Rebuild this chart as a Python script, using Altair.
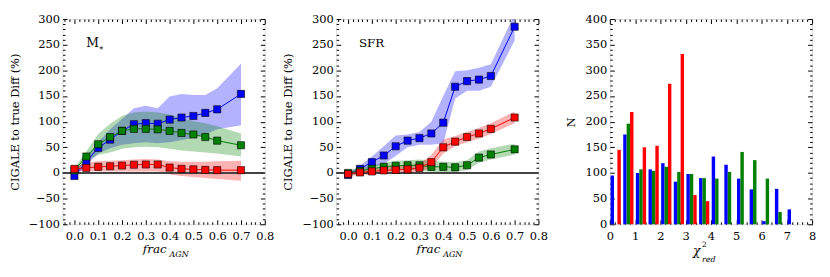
import altair as alt
import pandas as pd

FONT = "DejaVu Serif"
W, H = 204, 207

# ---------------- data ----------------
frac = [0.0, 0.05, 0.1, 0.15, 0.2, 0.25, 0.3, 0.35, 0.4, 0.45, 0.5, 0.55, 0.6, 0.7]

# M* panel
m_blue = [-6, 22, 49, 65, 82, 95, 97, 96, 104, 108, 111, 117, 124, 154]
m_blue_hi = [2, 28, 60, 85, 105, 126, 131, 126, 149, 154, 152, 152, 165, 213]
m_blue_lo = [-10, 15, 38, 48, 55, 58, 60, 58, 60, 64, 68, 75, 85, 93]
m_green = [5, 32, 56, 70, 82, 86, 86, 85, 82, 78, 75, 70, 63, 54]
m_green_hi = [10, 42, 76, 96, 111, 118, 120, 118, 114, 107, 101, 97, 91, 77]
m_green_lo = [0, 24, 35, 40, 47, 50, 51, 50, 47, 44, 42, 40, 38, 32]
m_red = [8, 10, 12, 13, 14.5, 16, 16.5, 16.5, 10.5, 8, 7, 6, 5.5, 5.5]
m_red_hi = [12, 20, 23, 24, 25, 26, 27, 26, 23, 22, 22, 22, 23, 24]
m_red_lo = [4, 4, 3, 3, 3, 3, 3, 3, -3, -6, -8, -10, -12, -15]

# SFR panel
s_blue = [-4, 8, 21, 34, 52, 63, 68, 77, 98, 168, 179, 182, 189, 285]
s_blue_hi = [0, 14, 32, 52, 73, 75, 80, 100, 150, 198, 200, 205, 212, 310]
s_blue_lo = [-6, 3, 10, 18, 33, 50, 55, 55, 58, 145, 160, 160, 168, 258]
s_green = [0, 4, 8, 12, 14, 15, 15, 12, 12, 11, 15, 30, 36, 46]
s_green_hi = [6, 10, 15, 20, 24, 25, 26, 24, 22, 21, 25, 42, 48, 57]
s_green_lo = [-6, -2, 0, 3, 5, 6, 5, 2, 2, 2, 6, 20, 26, 36]
s_red = [-2, 1, 3, 5, 6, 7, 10, 21, 50, 61, 70, 77, 86, 108]
s_red_hi = [2, 6, 8, 11, 12, 14, 18, 35, 65, 72, 80, 88, 97, 120]
s_red_lo = [-6, -4, -3, -1, 0, 1, 3, 10, 38, 52, 60, 67, 76, 97]

# histogram panel (bins of width 0.5)
bin_start = [0.0, 0.5, 1.0, 1.5, 2.0, 2.5, 3.0, 3.5, 4.0, 4.5, 5.0, 5.5, 6.0, 6.5, 7.0]
h_blue = [95, 175, 100, 107, 119, 83, 98, 90, 132, 116, 89, 68, 6, 69, 29]
h_green = [0, 196, 107, 104, 112, 102, 98, 90, 89, 102, 141, 125, 89, 24, 0]
h_red = [145, 219, 150, 153, 274, 332, 57, 45, 0, 0, 0, 0, 0, 0, 0]

SERIES = ["blue", "green", "red"]
COLORS = ["#0000ff", "#008000", "#ff0000"]
color_scale = alt.Scale(domain=SERIES, range=COLORS)


def frame_layers(xdom, ydom, xmaj, xmin, ymaj, ymin, xfmt, yfmt, ytitle, ytitlepad):
    df = pd.DataFrame({"x": [xdom[0]], "y": [ydom[0]]})
    base = alt.Chart(df).mark_point(opacity=0)
    xs = alt.Scale(domain=xdom, nice=False, zero=False)
    ys = alt.Scale(domain=ydom, nice=False, zero=False)
    common = dict(grid=False, domain=False, title=None, labels=False, tickColor="black", tickWidth=1)
    layers = [base.encode(
        x=alt.X("x:Q", scale=xs, axis=alt.Axis(
            values=xmaj, format=xfmt, ticks=False, domain=False, grid=False, title=None,
            labelPadding=6, labelFont=FONT, labelFontSize=11.5, labelColor="black",
            labelFlush=False, labelOverlap=False)),
        y=alt.Y("y:Q", scale=ys, axis=alt.Axis(
            values=ymaj, format=yfmt, ticks=False, domain=False, grid=False, title=ytitle,
            titleFont=FONT, titleFontSize=11.5, titleFontWeight="normal", titleColor="black",
            titlePadding=ytitlepad, labelPadding=3, labelFont=FONT, labelFontSize=11.5,
            labelColor="black", labelFlush=False, labelOverlap=False)),
    )]
    for vals, size in [(xmaj, 4.5), (xmin, 2.5)]:
        for orient in ["top", "bottom"]:
            layers.append(base.encode(
                x=alt.X("x:Q", scale=xs, axis=alt.Axis(orient=orient, offset=-H, values=vals,
                                                       tickSize=size, **common)),
                y=alt.Y("y:Q", scale=ys, axis=None)))
    for vals, size in [(ymaj, 4.5), (ymin, 2.5)]:
        for orient in ["left", "right"]:
            layers.append(base.encode(
                x=alt.X("x:Q", scale=xs, axis=None),
                y=alt.Y("y:Q", scale=ys, axis=alt.Axis(orient=orient, offset=-W, values=vals,
                                                       tickSize=size, **common))))
    return layers, xs, ys


def rng(a, b, step, skip):
    out = []
    n = int(round((b - a) / step))
    for i in range(n + 1):
        v = round(a + i * step, 6)
        if not any(abs(v - s) < 1e-9 for s in skip):
            out.append(v)
    return out


xmaj_l = [0.0, 0.1, 0.2, 0.3, 0.4, 0.5, 0.6, 0.7, 0.8]
xmin_l = rng(-0.04, 0.8, 0.02, xmaj_l)
ymaj_l = list(range(-100, 301, 50))
ymin_l = rng(-100, 300, 10, ymaj_l)


def line_panel(data, label):
    rows = []
    for s, (mid, lo, hi) in zip(SERIES, data):
        for x, m, l, h in zip(frac, mid, lo, hi):
            rows.append({"x": x, "mid": m, "lo": l, "hi": h, "s": s})
    df = pd.DataFrame(rows)
    layers, xs, ys = frame_layers([-0.05, 0.8], [-100, 300], xmaj_l, xmin_l, ymaj_l, ymin_l,
                                  ".1f", "d", "CIGALE to true Diff (%)", 8)
    band = alt.Chart(df).mark_area(opacity=0.3, clip=True).encode(
        x=alt.X("x:Q", scale=xs, axis=None),
        y=alt.Y("lo:Q", scale=ys, axis=None),
        y2="hi:Q",
        color=alt.Color("s:N", scale=color_scale, legend=None),
    )
    zero = alt.Chart(pd.DataFrame({"z": [0]})).mark_rule(color="#444444", strokeWidth=2).encode(
        y=alt.Y("z:Q", scale=ys, axis=None))
    data_layers = [band, zero]
    for s, c in zip(SERIES, COLORS):
        sub = df[df.s == s]
        data_layers.append(alt.Chart(sub).mark_line(color=c, strokeWidth=1, clip=True).encode(
            x=alt.X("x:Q", scale=xs, axis=None), y=alt.Y("mid:Q", scale=ys, axis=None)))
        data_layers.append(alt.Chart(sub).mark_point(
            shape="square", filled=True, fill=c, stroke="black", strokeWidth=0.6,
            size=52, opacity=1, clip=True).encode(
            x=alt.X("x:Q", scale=xs, axis=None), y=alt.Y("mid:Q", scale=ys, axis=None)))
    texts = []
    textdf = pd.DataFrame({"a": [0]})
    texts.append(alt.Chart(textdf).mark_text(text="frac", font=FONT, fontStyle="italic",
                                             fontSize=12, align="left", baseline="alphabetic",
                                             color="black").encode(
        x=alt.value(81), y=alt.value(236)))
    texts.append(alt.Chart(textdf).mark_text(text="AGN", font=FONT, fontStyle="italic",
                                             fontSize=8, align="left", baseline="alphabetic",
                                             color="black").encode(
        x=alt.value(108), y=alt.value(240)))
    if label == "M":
        texts.append(alt.Chart(textdf).mark_text(text="M", font=FONT, fontSize=12.5,
                                                 align="left", baseline="alphabetic",
                                                 color="black").encode(
            x=alt.value(24), y=alt.value(28)))
        texts.append(alt.Chart(textdf).mark_text(text="*", font=FONT, fontSize=8,
                                                 align="left", baseline="alphabetic",
                                                 color="black").encode(
            x=alt.value(37), y=alt.value(33)))
    else:
        texts.append(alt.Chart(textdf).mark_text(text="SFR", font=FONT, fontSize=12,
                                                 align="left", baseline="alphabetic",
                                                 color="black").encode(
            x=alt.value(23), y=alt.value(28)))
    return alt.layer(*(data_layers + layers + texts)).resolve_axis(
        x="independent", y="independent").properties(width=W, height=H)


p1 = line_panel([(m_blue, m_blue_lo, m_blue_hi), (m_green, m_green_lo, m_green_hi),
                 (m_red, m_red_lo, m_red_hi)], "M")
p2 = line_panel([(s_blue, s_blue_lo, s_blue_hi), (s_green, s_green_lo, s_green_hi),
                 (s_red, s_red_lo, s_red_hi)], "SFR")

# histogram
hrows = []
sub_w = 0.135
for k, (s, vals) in enumerate(zip(SERIES, [h_blue, h_green, h_red])):
    for b, v in zip(bin_start, vals):
        x0 = b + 0.03 + k * sub_w
        hrows.append({"x0": x0, "x1": x0 + sub_w, "n": v, "s": s})
hdf = pd.DataFrame(hrows)
xmaj_h = list(range(0, 9))
xmin_h = rng(0, 8, 0.2, xmaj_h)
ymaj_h = list(range(0, 401, 50))
ymin_h = rng(0, 400, 10, ymaj_h)
hl, hxs, hys = frame_layers([0, 8], [0, 400], xmaj_h, xmin_h, ymaj_h, ymin_h, "d", "d", "N", 9)
bars = alt.Chart(hdf).mark_rect().encode(
    x=alt.X("x0:Q", scale=hxs, axis=None), x2="x1:Q",
    y=alt.Y("n:Q", scale=hys, axis=None), y2=alt.datum(0),
    color=alt.Color("s:N", scale=color_scale, legend=None),
)
tdf = pd.DataFrame({"a": [0]})
htexts = [
    alt.Chart(tdf).mark_text(text="χ", font=FONT, fontStyle="italic", fontSize=12.5,
                             align="left", baseline="alphabetic", color="black").encode(
        x=alt.value(84), y=alt.value(238)),
    alt.Chart(tdf).mark_text(text="2", font=FONT, fontSize=7.5, align="left",
                             baseline="alphabetic", color="black").encode(
        x=alt.value(93), y=alt.value(230)),
    alt.Chart(tdf).mark_text(text="red", font=FONT, fontStyle="italic", fontSize=8,
                             align="left", baseline="alphabetic", color="black").encode(
        x=alt.value(93), y=alt.value(245)),
]
p3 = alt.layer(*([bars] + hl + htexts)).resolve_axis(
    x="independent", y="independent").properties(width=W, height=H)

chart = alt.hconcat(p1, p2, p3, spacing=72, bounds="flush").properties(
    padding={"left": 0, "top": 3, "right": 5, "bottom": 5}
).configure_view(stroke="black", strokeWidth=1).configure(background="white")

chart.save("out.html", embed_options={"renderer": "svg", "actions": False})
